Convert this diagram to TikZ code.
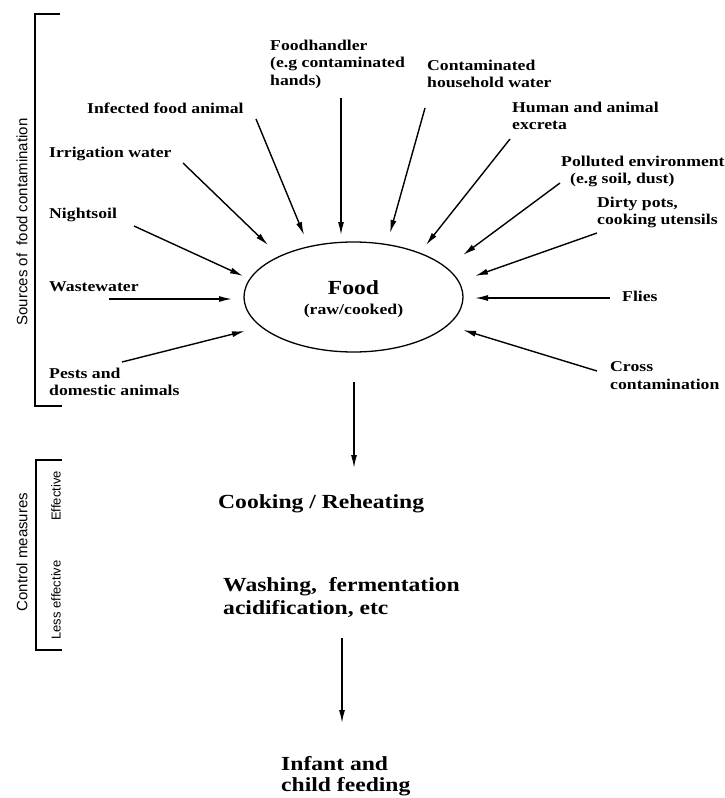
\documentclass[tikz,border=0pt]{standalone}
\usepackage{fontspec}
\setmainfont{Liberation Serif}[FakeStretch=1.18]
\newfontfamily\sidefont{Liberation Sans}
\usetikzlibrary{arrows.meta,shapes.geometric}
\begin{document}
\begin{tikzpicture}[x=1pt,y=-1pt,
  src/.style={font=\bfseries\fontsize{15}{17.5}\selectfont,align=left,anchor=north west,inner sep=0pt},
  big/.style={font=\bfseries\fontsize{20}{23}\selectfont,align=left,anchor=north west,inner sep=0pt},
  side/.style={font=\sidefont\fontsize{15}{17}\selectfont,rotate=90,inner sep=0pt},
  sidesmall/.style={font=\sidefont\fontsize{13}{15}\selectfont,rotate=90,inner sep=0pt},
  arr/.style={line width=1.4pt,-{Latex[length=13pt,width=6pt]}},
  brk/.style={line width=1.6pt}]
\useasboundingbox (0,0) rectangle (725,798);

% food ellipse
\node[draw,ellipse,line width=1.3pt,minimum width=219pt,minimum height=110pt,inner sep=0pt] (food) at (353.5,297) {};
\node[font=\bfseries\fontsize{20}{23}\selectfont,inner sep=0pt] (foodt) at (353.5,288) {Food};
\node[font=\bfseries\fontsize{15}{17}\selectfont,inner sep=0pt] (foodr) at (353.5,311) {(raw/cooked)};

% source labels
\node[src] (fh) at (270,39.5) {Foodhandler\\(e.g contaminated\\hands)};
\node[src] (chw) at (427,59.5) {Contaminated\\household water};
\node[src] (ifa) at (87,102.5) {Infected food animal};
\node[src] (hae) at (512,101.5) {Human and animal\\excreta};
\node[src] (iw) at (49,146.5) {Irrigation water};
\node[src] (pe) at (561,155.5) {Polluted environment\\\hspace*{9pt}(e.g soil, dust)};
\node[src] (dp) at (597,196.5) {Dirty pots,\\cooking utensils};
\node[src] (ns) at (49,207.5) {Nightsoil};
\node[src] (ww) at (49,281.5) {Wastewater};
\node[src] (fl) at (622,290.5) {Flies};
\node[src] (cc) at (610,361.5) {Cross\\contamination};
\node[src] (pda) at (49,367.5) {Pests and\\domestic animals};

% control measures
\node[big] (cook) at (218,494.5) {Cooking / Reheating};
\node[big] (wash) at (223,577.5) {Washing,\ \ fermentation\\acidification, etc};
\node[big,font=\bfseries\fontsize{20}{21}\selectfont] (inf) at (281,756) {Infant and\\child feeding};

% arrow end points
\coordinate (fhA) at (341,98);  \coordinate (fhB) at (341,235);
\coordinate (ifaA) at (256,119); \coordinate (ifaB) at (304,235);
\coordinate (iwA) at (183,163); \coordinate (iwB) at (268,245);
\coordinate (nsA) at (134,226); \coordinate (nsB) at (243,276);
\coordinate (wwA) at (109,299); \coordinate (wwB) at (232,299);
\coordinate (pdaA) at (122,362); \coordinate (pdaB) at (245,331);
\coordinate (chwA) at (425,108); \coordinate (chwB) at (390,233);
\coordinate (haeA) at (510,139); \coordinate (haeB) at (426,245);
\coordinate (peA) at (560,183); \coordinate (peB) at (463,255);
\coordinate (dpA) at (597,233); \coordinate (dpB) at (475,276);
\coordinate (flA) at (610,298); \coordinate (flB) at (475,298);
\coordinate (ccA) at (597,371); \coordinate (ccB) at (463,330);
\coordinate (downA) at (354,382); \coordinate (downB) at (354,468);
\coordinate (washA) at (342,638); \coordinate (washB) at (342,723);

\foreach \n in {fh,ifa,iw,ns,ww,pda,chw,hae,pe,dp,fl,cc,down,wash}
  \draw[arr] (\n A) -- (\n B);

% brackets
\coordinate (s1) at (60,14); \coordinate (s2) at (35,14);
\coordinate (s3) at (35,406); \coordinate (s4) at (62,406);
\draw[brk] (s1) -- (s2) -- (s3) -- (s4);
\node[side] (srcl) at (22,222) {Sources of\ \ food contamination};

\coordinate (c1) at (62,460); \coordinate (c2) at (36,460);
\coordinate (c3) at (36,650); \coordinate (c4) at (62,650);
\draw[brk] (c1) -- (c2) -- (c3) -- (c4);
\node[side] (ctl) at (22,552) {Control measures};
\node[sidesmall] (eff) at (56,496) {Effective};
\node[sidesmall] (leff) at (56,600) {Less effective};
\end{tikzpicture}
\end{document}
